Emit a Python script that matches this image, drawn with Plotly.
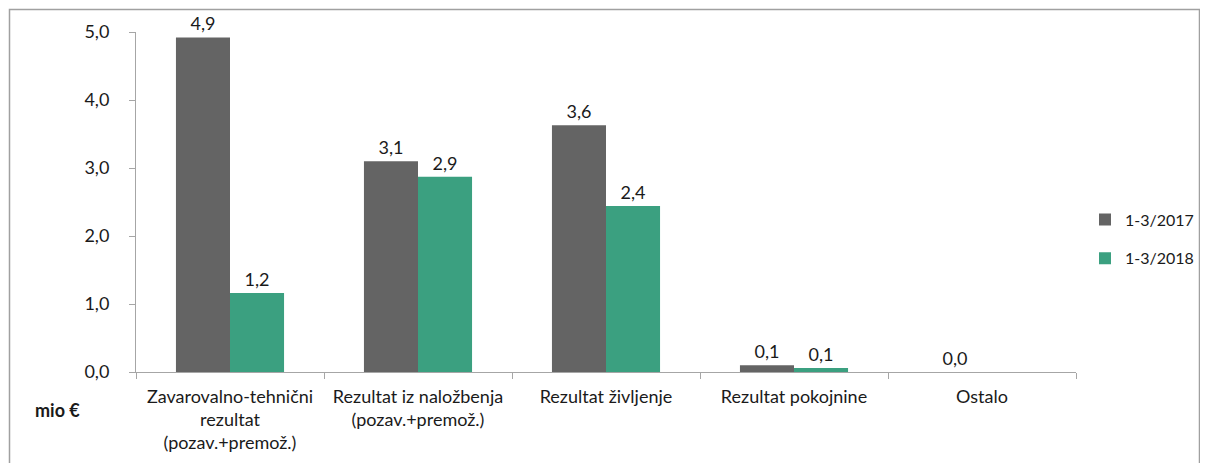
import plotly.graph_objects as go

categories = ["Zavarovalno-tehnični<br>rezultat<br>(pozav.+premož.)",
              "Rezultat iz naložbenja<br>(pozav.+premož.)",
              "Rezultat življenje",
              "Rezultat pokojnine",
              "Ostalo"]
series_names = ["1-3/2017", "1-3/2018"]
values_2017 = [4.92, 3.10, 3.63, 0.10, 0.0]
values_2018 = [1.16, 2.87, 2.44, 0.06, None]
y_ticks = [0, 1, 2, 3, 4, 5]

FONT = "Lato"
FS = 18
TXT = "#1a1a1a"
colors = ["#646464", "#3BA080"]

# page has an 8px body margin; figure coords = page coords - 8.
# Figure is made wider than the window so the legend never pushes the margins.
OFF = 8
W, H = 1300, 463
L = 136 - OFF
T = 32 - OFF
R = W - (1076 - OFF)
B = H - (372 - OFF)
pw, ph = W - L - R, H - T - B

def px_x(x):
    return (x - OFF - L) / pw

def px_y(y):
    return (H - B - (y - OFF)) / ph

fig = go.Figure()
for name, vals, col in zip(series_names, [values_2017, values_2018], colors):
    fig.add_trace(go.Bar(
        x=categories, y=vals, name=name, legendgroup=name,
        marker=dict(color=col, line=dict(width=0)),
        texttemplate="%{y:.1f}", textposition="outside", cliponaxis=False,
        textfont=dict(family=FONT, size=FS, color=TXT),
    ))

fig.update_layout(
    autosize=False,
    width=W, height=H,
    margin=dict(l=L, r=R, t=T, b=B),
    paper_bgcolor="white", plot_bgcolor="white",
    separators=",.",
    barmode="group", bargap=0.425, bargroupgap=0,
    font=dict(family=FONT, size=FS, color=TXT),
    showlegend=True,
    legend=dict(x=px_x(1085), y=px_y(239), xanchor="left", yanchor="middle",
                traceorder="grouped", tracegroupgap=15,
                font=dict(family=FONT, size=16, color=TXT),
                itemwidth=30, bgcolor="rgba(0,0,0,0)"),
    xaxis=dict(showline=True, linecolor="#A6A6A6", linewidth=1,
               ticks="outside", ticklen=6, tickcolor="#A6A6A6",
               tickson="boundaries", showgrid=False, ticklabelstandoff=8,
               tickfont=dict(family=FONT, size=FS, color=TXT)),
    yaxis=dict(range=[0, 5], tickvals=y_ticks, tickformat=".1f",
               showline=True, linecolor="#A6A6A6", linewidth=1,
               ticks="outside", ticklen=6, tickcolor="#A6A6A6",
               showgrid=False, zeroline=False, ticklabelstandoff=16,
               tickfont=dict(family=FONT, size=FS, color=TXT)),
    annotations=[dict(text="<b>mio €</b>", xref="paper", yref="paper",
                      x=px_x(57), y=px_y(410), xanchor="center", yanchor="middle",
                      showarrow=False, font=dict(family=FONT, size=FS, color=TXT))],
    shapes=[dict(type="rect", xref="paper", yref="paper",
                 x0=px_x(9.5), x1=px_x(1199.5), y0=px_y(490), y1=px_y(9.5),
                 line=dict(color="#A0A0A0", width=1.5), fillcolor="rgba(0,0,0,0)",
                 layer="below")],
)

fig.write_html("out.html", config={"responsive": False})
